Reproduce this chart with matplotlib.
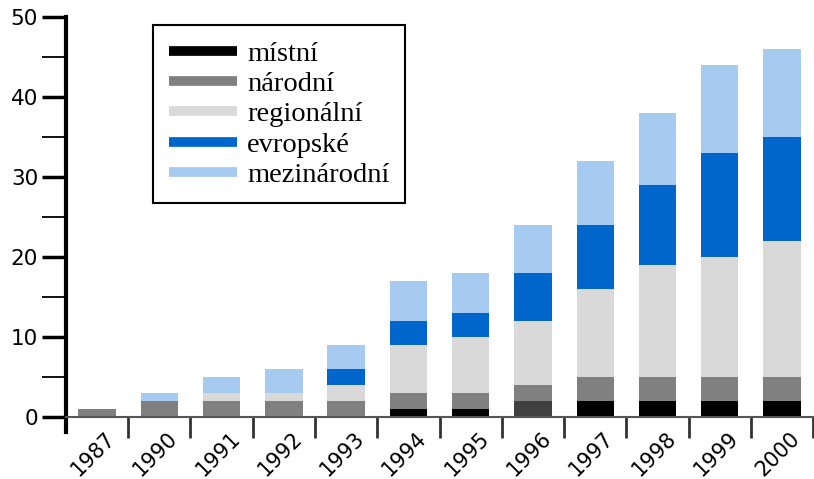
import matplotlib.pyplot as plt
from matplotlib.lines import Line2D
from matplotlib.transforms import ScaledTranslation
import numpy as np

years = ['1987', '1990', '1991', '1992', '1993', '1994', '1995', '1996',
         '1997', '1998', '1999', '2000']
series = ['místní', 'národní', 'regionální', 'evropské', 'mezinárodní']
mistni = [0, 0, 0, 0, 0, 1, 1, 2, 2, 2, 2, 2]
narodni = [1, 2, 2, 2, 2, 2, 2, 2, 3, 3, 3, 3]
regionalni = [0, 0, 1, 1, 2, 6, 7, 8, 11, 14, 15, 17]
evropske = [0, 0, 0, 0, 2, 3, 3, 6, 8, 10, 13, 13]
mezinarodni = [0, 1, 2, 3, 3, 5, 5, 6, 8, 9, 11, 11]
colors = ['#000000', '#808080', '#d9d9d9', '#0066cc', '#a6caf0']

fig = plt.figure(figsize=(8.14, 4.79), dpi=100)
ax = fig.add_axes([0.081, 0.0973, 0.918, 0.867])

x = np.arange(len(years))
bottom = np.zeros(len(years))
for vals, c in zip([mistni, narodni, regionalni, evropske, mezinarodni], colors):
    bars = ax.bar(x, vals, 0.6, bottom=bottom, color=c, linewidth=0)
    if c == '#000000':
        bars[7].set_facecolor('#404040')  # 1996 drawn dark grey in original
    bottom += np.array(vals)

ax.set_xlim(-0.5, 11.5)
ax.set_ylim(-1.9, 50)

# axes styling
for s in ['top', 'right']:
    ax.spines[s].set_visible(False)
ax.spines['left'].set_linewidth(3)
ax.spines['bottom'].set_position(('data', 0))
ax.spines['bottom'].set_color('#555555')
ax.spines['bottom'].set_linewidth(1.5)

ax.set_yticks(range(0, 51, 10))
ax.set_yticks(range(5, 50, 10), minor=True)
ax.tick_params(axis='y', which='major', length=17, width=2.5, labelsize=15.5,
               pad=3, colors='black')
ax.tick_params(axis='y', which='minor', length=17, width=1.3)

ax.set_xticks(x)
ax.set_xticklabels(years, rotation=45, ha='right', va='top',
                   rotation_mode='anchor', fontsize=15)
ax.set_xticks(np.arange(0.5, 11.6, 1), minor=True)
ax.tick_params(axis='x', which='major', length=0, pad=2)
ax.tick_params(axis='x', which='minor', length=15, width=2, color='#333333')
shift = ScaledTranslation(8 / 100, -8 / 100, fig.dpi_scale_trans)
for lbl in ax.get_xticklabels():
    lbl.set_transform(lbl.get_transform() + shift)

handles = [Line2D([0], [0], color=c, lw=7, solid_capstyle='butt') for c in colors]
leg = ax.legend(handles, series, loc='upper left', bbox_to_anchor=(0.117, 0.98),
                borderaxespad=0, fancybox=False, framealpha=1,
                prop={'family': 'Liberation Serif', 'size': 20.5},
                handlelength=2.4, handletextpad=0.35, labelspacing=0.15,
                borderpad=0.55)
leg.get_frame().set_edgecolor('black')
leg.get_frame().set_linewidth(1.5)

fig.savefig('out.png', dpi=100)
